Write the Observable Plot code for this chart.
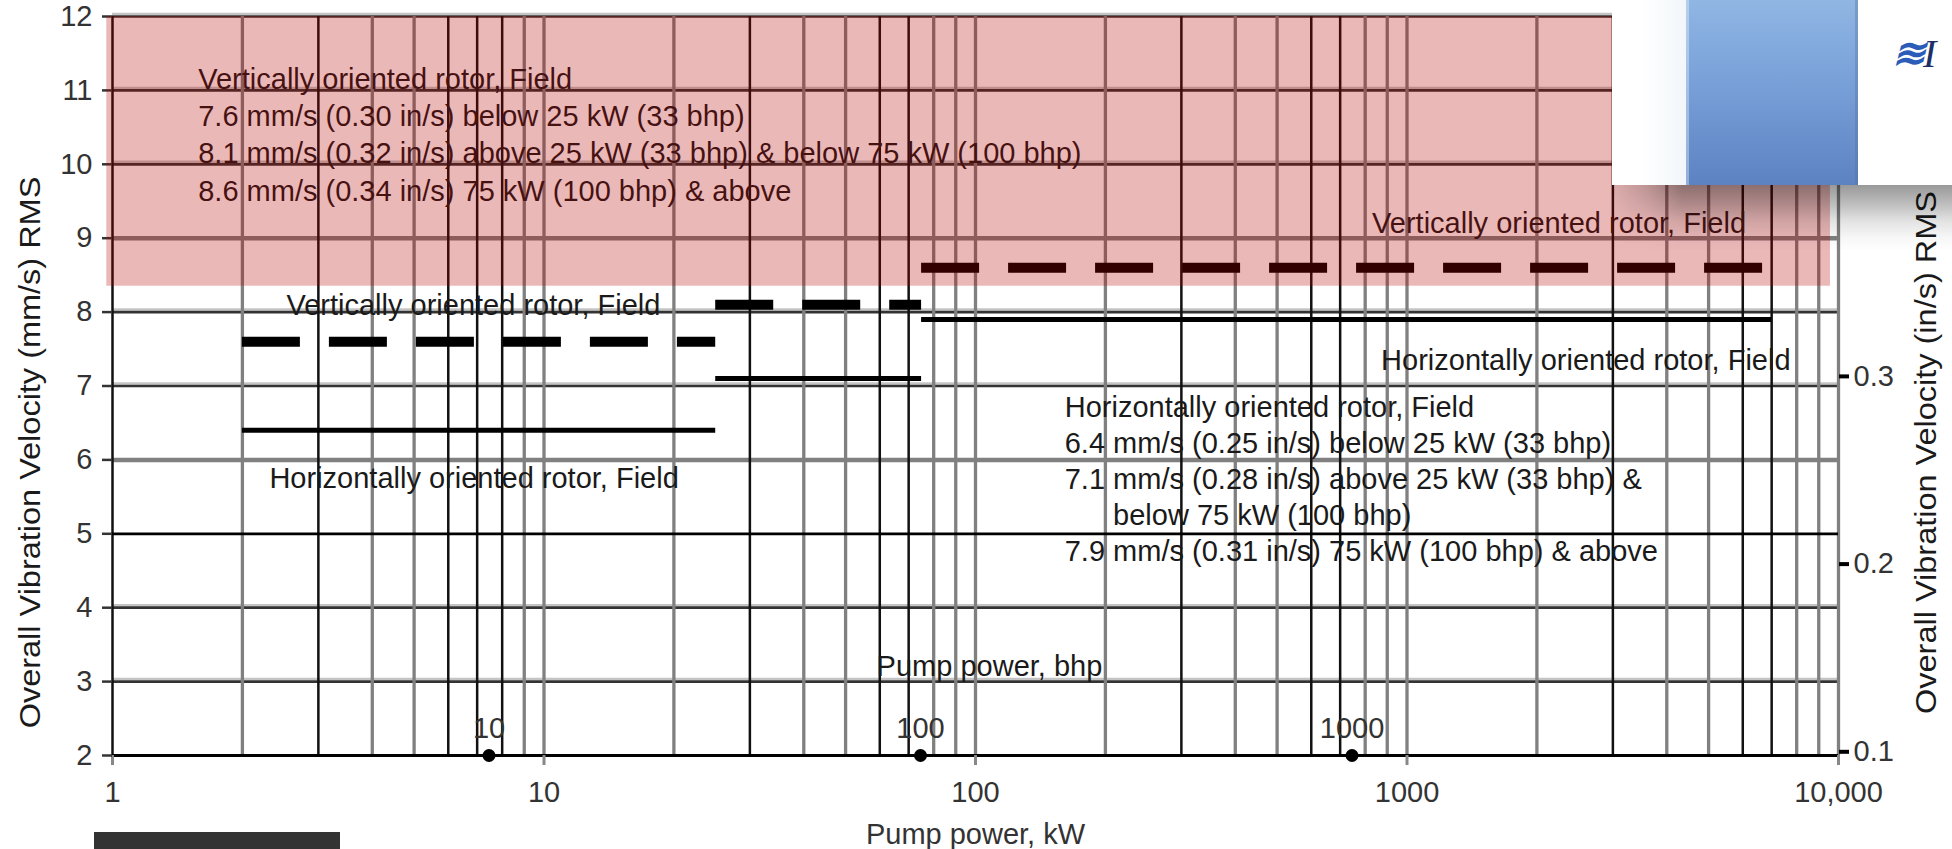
<!DOCTYPE html>
<html>
<head>
<meta charset="utf-8">
<script src="https://cdn.jsdelivr.net/npm/d3@7"></script>
<script src="https://cdn.jsdelivr.net/npm/@observablehq/plot@0.6"></script>
<style>
  html, body { margin: 0; padding: 0; background: #fff; overflow: hidden; }
  #wrap { position: relative; width: 1952px; height: 849px; overflow: hidden; }
  #chart svg { display: block; }
  .ov { position: absolute; }
</style>
</head>
<body>
<div id="wrap">
  <div id="chart"></div>
  <div class="ov" style="left:1612px;top:0;width:340px;height:185px;background:#fff;"></div>
  <div class="ov" style="left:1612px;top:0;width:74px;height:185px;background:linear-gradient(to right,#fff 0,#fff 40%,#f2f6fa 100%);"></div>
  <div class="ov" style="left:1686px;top:0;width:172px;height:185px;background:linear-gradient(to bottom,#90b6e3 0%,#7ba3da 40%,#5d82c2 100%);box-shadow:inset 3px 0 0 rgba(255,255,255,0.35), inset -3px 0 0 rgba(90,110,150,0.35);"></div>
  <div class="ov" style="left:1612px;top:185px;width:340px;height:66px;background:linear-gradient(to bottom,rgba(0,0,0,0.40) 0%,rgba(0,0,0,0.25) 30%,rgba(0,0,0,0.11) 55%,rgba(0,0,0,0.03) 80%,rgba(0,0,0,0) 100%);-webkit-mask-image:linear-gradient(to right,rgba(0,0,0,0.15) 0,rgba(0,0,0,0.5) 35px,#000 70px);mask-image:linear-gradient(to right,rgba(0,0,0,0.15) 0,rgba(0,0,0,0.5) 35px,#000 70px);"></div>
  <div class="ov" style="left:1892px;top:30px;font:italic bold 40px 'Liberation Serif',serif;color:#2a5cb8;letter-spacing:-3px;white-space:nowrap;">&#8779;<span style="color:#1d2f66;font-weight:normal">I</span></div>
  <div class="ov" style="left:94px;top:832px;width:246px;height:17px;background:#333;"></div>
</div>
<script>
// ---- data ----
const kwTicks = [1, 10, 100, 1000, 10000];
const kwTickLabels = ["1", "10", "100", "1000", "10,000"];
const mmTicks = [2, 3, 4, 5, 6, 7, 8, 9, 10, 11, 12];
const inTicks = [0.1, 0.2, 0.3];
const inAxisZeroMm = -0.49;   // where 0 in/s sits on the mm/s scale, as drawn in the reference
const bhpTicks = [10, 100, 1000];
const gridX = [1, 2, 3, 4, 5, 6, 7, 8, 9,
  10, 20, 30, 40, 50, 60, 70, 80, 90,
  100, 200, 300, 400, 500, 600, 700, 800, 900,
  1000, 2000, 3000, 4000, 5000, 6000, 7000, 8000, 9000, 10000];
const gridY = [2, 3, 4, 5, 6, 7, 8, 9, 10, 11, 12];

const verticalRotor = [
  {from: 2, to: 25, mm: 7.6},
  {from: 25, to: 75, mm: 8.1},
  {from: 75, to: 7000, mm: 8.6}
];
const horizontalRotor = [
  {from: 2, to: 25, mm: 6.4},
  {from: 25, to: 75, mm: 7.1},
  {from: 75, to: 7000, mm: 7.9}
];
const alarmZone = [{from: 0.97, to: 9580, low: 8.35, high: 12}];

const noteVertical = [
  "Vertically oriented rotor, Field",
  "7.6 mm/s (0.30 in/s) below 25 kW (33 bhp)",
  "8.1 mm/s (0.32 in/s) above 25 kW (33 bhp) & below 75 kW (100 bhp)",
  "8.6 mm/s (0.34 in/s) 75 kW (100 bhp) & above"
].join("\n");
const noteHorizontal = [
  "Horizontally oriented rotor, Field",
  "6.4 mm/s (0.25 in/s) below 25 kW (33 bhp)",
  "7.1 mm/s (0.28 in/s) above 25 kW (33 bhp) &",
  "\u00a0\u00a0\u00a0\u00a0\u00a0\u00a0below 75 kW (100 bhp)",
  "7.9 mm/s (0.31 in/s) 75 kW (100 bhp) & above"
].join("\n");
const blockNotes = [
  {kw: 1.58, mm: 11.38, text: noteVertical},
  {kw: 161, mm: 6.92, text: noteHorizontal}
];
const lineNotes = [
  {kw: 2.53, mm: 7.96, text: "Vertically oriented rotor, Field"},
  {kw: 2.31, mm: 5.62, text: "Horizontally oriented rotor, Field"},
  {kw: 830, mm: 9.07, text: "Vertically oriented rotor, Field"},
  {kw: 871, mm: 7.22, text: "Horizontally oriented rotor, Field"},
  {kw: 59, mm: 3.07, text: "Pump power, bhp"}
];
const titleLeft = "Overall Vibration Velocity (mm/s) RMS";
const titleRight = "Overall Vibration Velocity (in/s) RMS";
const titleX = "Pump power, kW";
const titleMid = 6.1;

// ---- unit conversions ----
const KW_PER_BHP = 0.7457;
const MM_PER_IN = 25.4;

// ---- grid styling rules ----
const mant = v => Math.round(v / Math.pow(10, Math.floor(Math.log10(v) + 1e-9)));
const darkX = v => v === 1 || v === 8 || [3, 6, 7].includes(mant(v));
const grayRows = v => v === 6 || v === 9;
const blackRows = v => v === 2 || v === 5;
const haloRows = v => !grayRows(v) && !blackRows(v);

const ink = "#1a1a1a";
const chart = Plot.plot({
  width: 1952,
  height: 849,
  marginLeft: 112,
  marginRight: 114,
  marginTop: 16,
  marginBottom: 94,
  style: {fontFamily: "'Liberation Sans', Arial, sans-serif", fontSize: "29px", color: ink, background: "#fff", overflow: "visible"},
  x: {type: "log", domain: [1, 10000]},
  y: {domain: [2, 12]},
  marks: [
    // horizontal grid
    Plot.ruleY(gridY.filter(haloRows), {stroke: "#c4c4c4", strokeWidth: 2.5, dy: -2.5}),
    Plot.ruleY(gridY.filter(haloRows), {stroke: "#333", strokeWidth: 2.7}),
    Plot.ruleY(gridY.filter(grayRows), {stroke: "#808080", strokeWidth: 4.5}),
    // vertical grid
    Plot.ruleX(gridX.filter(v => !darkX(v)), {stroke: "#808080", strokeWidth: 3.3}),
    Plot.ruleX(gridX.filter(darkX), {stroke: "#111", strokeWidth: 2.5}),
    Plot.ruleY(gridY.filter(blackRows), {stroke: "#000", strokeWidth: 2.8}),
    // limit lines
    Plot.ruleY(horizontalRotor, {y: "mm", x1: "from", x2: "to", stroke: "#000", strokeWidth: 5}),
    Plot.ruleY(verticalRotor, {y: "mm", x1: "from", x2: "to", stroke: "#000", strokeWidth: 10, strokeDasharray: "58,29"}),
    // annotations
    Plot.text(blockNotes.slice(0, 1), {x: "kw", y: "mm", text: "text", textAnchor: "start", lineAnchor: "top", lineHeight: 1.286, fill: ink}),
    Plot.text(blockNotes.slice(1, 2), {x: "kw", y: "mm", text: "text", textAnchor: "start", lineAnchor: "top", lineHeight: 1.24, fill: ink}),
    Plot.text(lineNotes, {x: "kw", y: "mm", text: "text", textAnchor: "start", lineAnchor: "bottom", fill: ink}),
    // secondary bhp scale on the x axis
    Plot.dot(bhpTicks, {x: d => d * KW_PER_BHP, y: 2, r: 6.5, fill: "#000", stroke: "none"}),
    Plot.text(bhpTicks, {x: d => d * KW_PER_BHP, y: 2, text: d => String(d), dy: -18, lineAnchor: "bottom", fill: "#333"}),
    // axes
    Plot.axisX({ticks: kwTicks, tickFormat: d => kwTickLabels[kwTicks.indexOf(d)], tickSize: 10, tickPadding: 16,
      stroke: "#888", strokeWidth: 3, fill: "#333",
      label: titleX, labelAnchor: "center", labelOffset: 88, labelArrow: "none"}),
    Plot.axisY({anchor: "left", ticks: mmTicks, tickSize: 10, tickPadding: 10, stroke: "#333", strokeWidth: 2.5, fill: "#333", label: null}),
    Plot.axisY({anchor: "right", ticks: inTicks.map(v => v * MM_PER_IN + inAxisZeroMm),
      tickFormat: d => ((d - inAxisZeroMm) / MM_PER_IN).toFixed(1),
      tickSize: 10, tickPadding: 5, stroke: "#000", strokeWidth: 4, fill: "#333", label: null}),
    Plot.text([titleLeft], {y: titleMid, frameAnchor: "left", dx: -93, rotate: -90, textAnchor: "middle", lineAnchor: "top", text: d => d, fill: ink, className: "ytitle"}),
    Plot.text([titleRight], {y: titleMid, frameAnchor: "right", dx: 77, rotate: -90, textAnchor: "middle", lineAnchor: "top", text: d => d, fill: ink, className: "ytitle"}),
    // alarm zone (translucent overlay on top)
    Plot.rect(alarmZone, {x1: "from", x2: "to", y1: "low", y2: "high", fill: "rgb(182,0,0)", fillOpacity: 0.28})
  ]
});
document.getElementById("chart").appendChild(chart);

// the axis titles in the reference are drawn slightly elongated along the text direction
d3.select(chart).selectAll("text").each(function () {
  if (this.textContent === titleLeft || this.textContent === titleRight) {
    const len = this.getComputedTextLength();
    this.setAttribute("textLength", (len * 1.12).toFixed(1));
    this.setAttribute("lengthAdjust", "spacingAndGlyphs");
  }
});
</script>
</body>
</html>
